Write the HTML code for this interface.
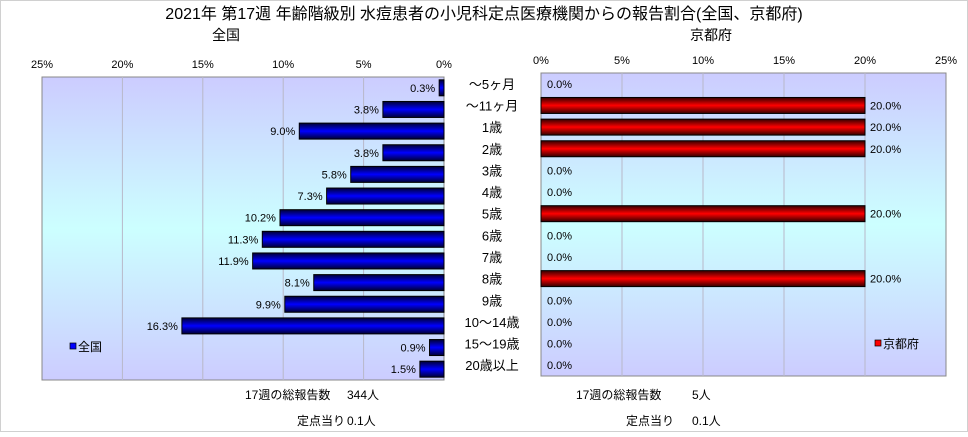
<!DOCTYPE html>
<html><head><meta charset="utf-8"><style>
body{margin:0;background:#fff;}
svg text{font-family:"Liberation Sans","Noto Sans CJK JP",sans-serif;}
</style></head><body>
<svg id="c" width="968" height="432" xmlns="http://www.w3.org/2000/svg">
<defs>
<linearGradient id="bg" x1="0" y1="0" x2="0" y2="1">
<stop offset="0" stop-color="#ccccff"/><stop offset="0.5" stop-color="#ccffff"/><stop offset="1" stop-color="#ccccff"/>
</linearGradient>
<linearGradient id="gb" x1="0" y1="0" x2="0" y2="1">
<stop offset="0" stop-color="#000033"/><stop offset="0.5" stop-color="#0000ff"/><stop offset="1" stop-color="#000033"/>
</linearGradient>
<linearGradient id="gr" x1="0" y1="0" x2="0" y2="1">
<stop offset="0" stop-color="#330000"/><stop offset="0.5" stop-color="#ff0000"/><stop offset="1" stop-color="#330000"/>
</linearGradient>
</defs>
<rect x="0.5" y="0.5" width="967" height="431" fill="#fff" stroke="#d0d0d0"/>
<text x="484" y="19" font-size="16" text-anchor="middle">2021年 第17週 年齢階級別 水痘患者の小児科定点医療機関からの報告割合(全国、京都府)</text>
<text x="226" y="40" font-size="14" text-anchor="middle">全国</text>
<text x="711" y="40" font-size="14" text-anchor="middle">京都府</text>
<g id="g"></g>
<rect x="70" y="343" width="6" height="6" fill="#0000ff" stroke="#000" stroke-width="0.7"/>
<text x="78" y="351" font-size="12">全国</text>
<rect x="875" y="340" width="6" height="6" fill="#ff0000" stroke="#000" stroke-width="0.7"/>
<text x="883" y="348" font-size="12">京都府</text>
<text x="245" y="399" font-size="12">17週の総報告数</text>
<text x="347" y="399" font-size="12">344人</text>
<text x="297" y="425" font-size="12">定点当り</text>
<text x="347" y="425" font-size="12">0.1人</text>
<text x="576" y="399" font-size="12">17週の総報告数</text>
<text x="692" y="399" font-size="12">5人</text>
<text x="626" y="425" font-size="12">定点当り</text>
<text x="692" y="425" font-size="12">0.1人</text>
</svg>
<script>
const categories=["～5ヶ月","～11ヶ月","1歳","2歳","3歳","4歳","5歳","6歳","7歳","8歳","9歳","10～14歳","15～19歳","20歳以上"];
const nationalValues=[0.3,3.8,9.0,3.8,5.8,7.3,10.2,11.3,11.9,8.1,9.9,16.3,0.9,1.5];
const kyotoValues=[0,20,20,20,0,0,20,0,0,20,0,0,0,0];
const tickLabels=["0%","5%","10%","15%","20%","25%"];
const tickValues=[0,5,10,15,20,25];
const NS="http://www.w3.org/2000/svg";
const g=document.getElementById('g');
function mk(t,a,txt){const e=document.createElementNS(NS,t);for(const k in a)e.setAttribute(k,a[k]);if(txt!=null)e.textContent=txt;g.appendChild(e);return e;}
const L={x0:444,x1:42,top:77,h:303};
const R={x0:541,x1:946,top:73,h:303};
const lx=v=>L.x0+(L.x1-L.x0)*v/25;
const rx=v=>R.x0+(R.x1-R.x0)*v/25;
const rowH=L.h/categories.length;
// backgrounds
let e=mk('rect',{x:L.x1,y:L.top,width:L.x0-L.x1,height:L.h,fill:'url(#bg)',stroke:'#888'});


e=mk('rect',{x:R.x0,y:R.top,width:R.x1-R.x0,height:R.h,fill:'url(#bg)',stroke:'#888'});


tickValues.forEach((v,i)=>{
 if(v>0&&v<25){
  e=mk('line',{x1:lx(v),x2:lx(v),y1:L.top,y2:L.top+L.h,stroke:'#b8b8c8'});
  
  
  e=mk('line',{x1:rx(v),x2:rx(v),y1:R.top,y2:R.top+R.h,stroke:'#b8b8c8'});
  
  
 }
 e=mk('text',{x:lx(v),y:68,'font-size':11,'text-anchor':'middle'},tickLabels[i]);
 
 
 e=mk('text',{x:rx(v),y:64,'font-size':11,'text-anchor':'middle'},tickLabels[i]);
 
 
});
categories.forEach((c,i)=>{
 const cyL=L.top+rowH*(i+0.5), cyR=R.top+rowH*(i+0.5);
 const v=nationalValues[i];
 e=mk('rect',{x:lx(v),y:cyL-8,width:L.x0-lx(v),height:16,fill:'url(#gb)',stroke:'#000','stroke-width':1});
 
 
 e=mk('text',{x:lx(v)-4,y:cyL+4,'font-size':11,'text-anchor':'end'},v.toFixed(1)+'%');
 
 
 const k=kyotoValues[i];
 if(k>0){
  e=mk('rect',{x:R.x0,y:cyR-8,width:rx(k)-R.x0,height:16,fill:'url(#gr)',stroke:'#000','stroke-width':1});
  
  
 }
 e=mk('text',{x:rx(k)+(k>0?5:6),y:cyR+4,'font-size':11},k.toFixed(1)+'%');
 
 
 e=mk('text',{x:492,y:cyR+5,'font-size':13,'text-anchor':'middle'},c);
 
 
});
</script>
</body></html>
